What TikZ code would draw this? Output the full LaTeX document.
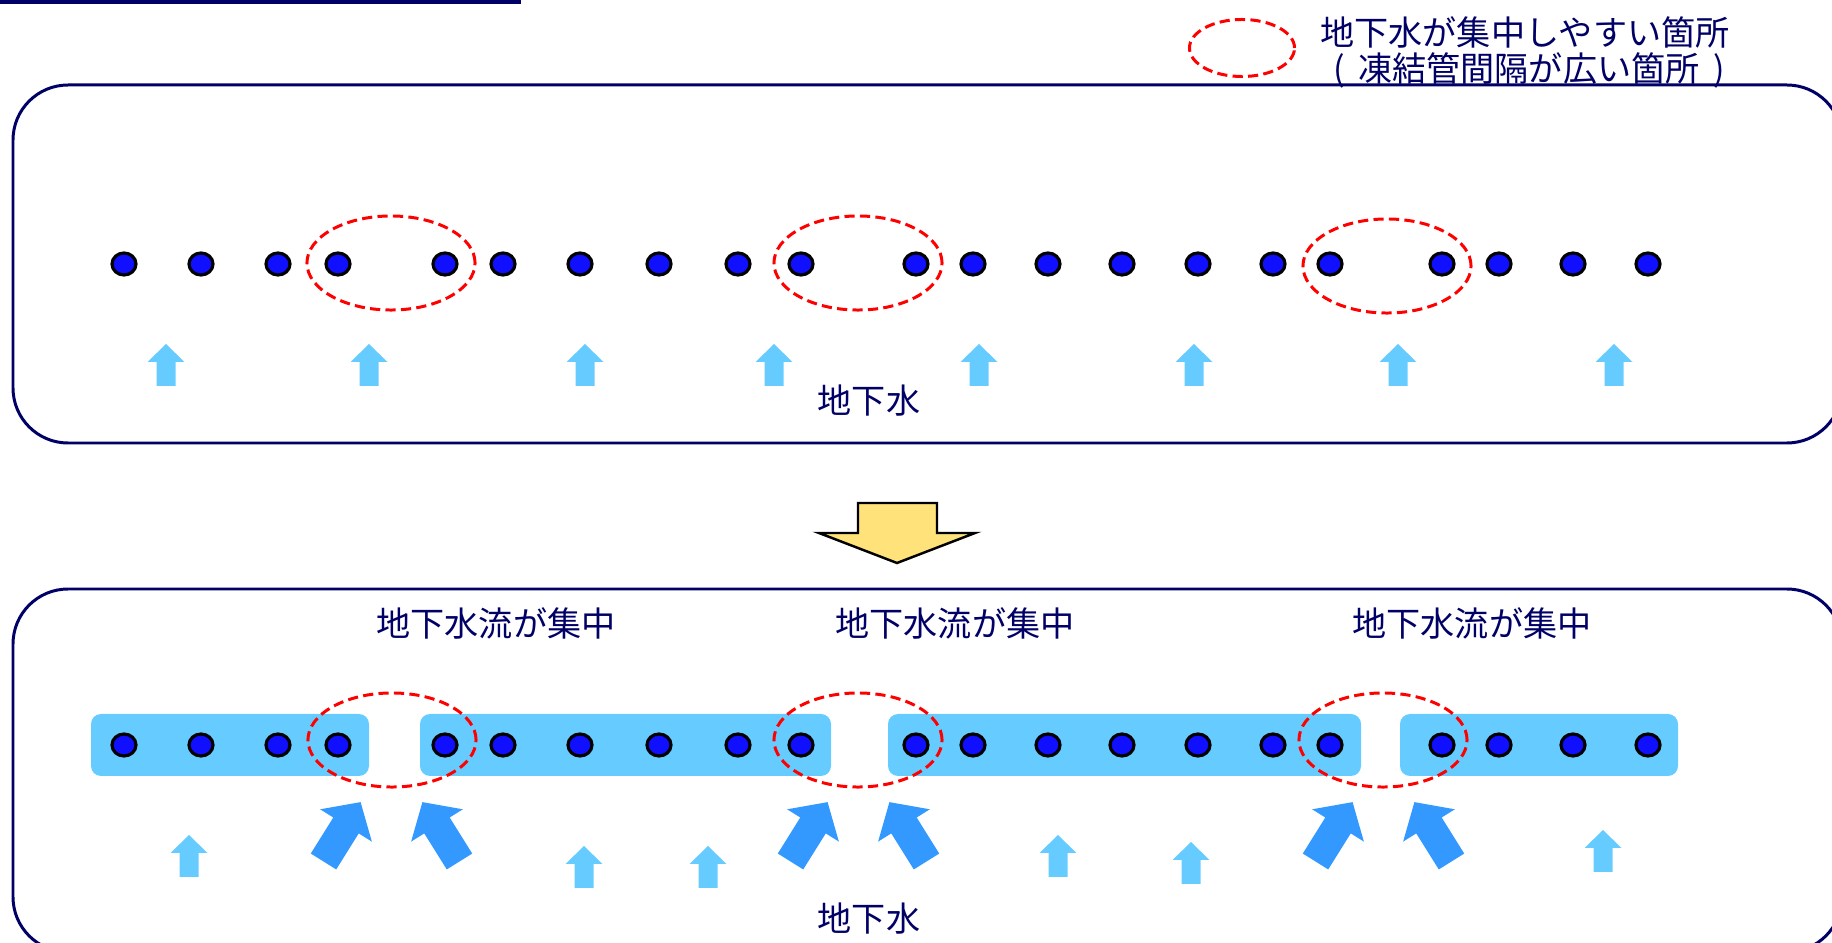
\documentclass[tikz,border=0pt]{standalone}
\usepackage{fontspec}
\setmainfont{Noto Sans CJK JP}
\usetikzlibrary{shapes.geometric}
\definecolor{panelnavy}{RGB}{0,0,102}
\definecolor{pipeblue}{RGB}{16,16,255}
\definecolor{flowlight}{RGB}{102,204,255}
\definecolor{flowdeep}{RGB}{51,153,255}
\definecolor{turnyellow}{RGB}{255,226,122}
\tikzset{
  panel/.style={draw=panelnavy,line width=0.85pt,rounded corners=0.55cm},
  pipe/.style={ellipse,draw=black,fill=pipeblue,line width=0.9pt,minimum width=0.24cm,minimum height=0.22cm,inner sep=0pt},
  spotring/.style={draw=red,line width=0.85pt,dash pattern=on 2.9pt off 1.5pt},
  jtext/.style={text=panelnavy,font=\fontsize{9.7pt}{11pt}\selectfont,inner sep=0pt},
  frozenbar/.style={fill=flowlight,rounded corners=0.1cm},
  uparrow/.pic={\fill[flowlight] (0,0) -- (18.5,18) -- (9.5,18) -- (9.5,42) -- (-9.5,42) -- (-9.5,18) -- (-18.5,18) -- cycle;},
  inflow/.pic={\fill[flowdeep] (0,-15) -- (42.5,-15) -- (42.5,-30.5) -- (70,0) -- (42.5,30.5) -- (42.5,15) -- (0,15) -- cycle;}
}

\begin{document}
\begin{tikzpicture}[x=0.01cm,y=-0.01cm]
\clip (0,0) rectangle (1832,943);

\draw[panelnavy,line width=0.9pt] (0,2) -- (521,2);

\draw[panel] (13,85) rectangle (1842,443);
\draw[panel] (13,589) rectangle (1842,952);

\fill[frozenbar] (91,714) rectangle (369,776);
\fill[frozenbar] (420,714) rectangle (831,776);
\fill[frozenbar] (888,714) rectangle (1361,776);
\fill[frozenbar] (1400,714) rectangle (1678,776);

\foreach \px [count=\i] in {124,201,278,338,445,503,580,659,738,801,916,973,1048,1122,1198,1273,1330,1442,1499,1573,1648} {
  \node[pipe] (t\i) at (\px,264) {};
  \node[pipe] (b\i) at (\px,745) {};
}

\draw[spotring] (391,263) ellipse (0.84cm and 0.47cm);
\draw[spotring] (858,263) ellipse (0.84cm and 0.47cm);
\draw[spotring] (1387,266) ellipse (0.84cm and 0.47cm);
\draw[spotring] (392,740) ellipse (0.84cm and 0.47cm);
\draw[spotring] (858,740) ellipse (0.84cm and 0.47cm);
\draw[spotring] (1383,740) ellipse (0.84cm and 0.47cm);

\draw[spotring] (1242,48) ellipse (0.525cm and 0.285cm);
\node[jtext] (legendA) at (1525,32) {地下水が集中しやすい箇所};
\node[jtext] (legendB) at (1529,70) {(\hspace{0.4em}凍結管間隔が広い箇所\hspace{0.4em})};

\foreach \ax in {166,369,585,774,979,1194,1398,1614}
  \pic at (\ax,344) {uparrow};
\foreach \ax/\ay in {189/835,584/846,708/846,1058/835,1191/842,1603/830}
  \pic at (\ax,\ay) {uparrow};

\foreach \cx in {391,858,1383} {
  \pic[rotate=58] at (\cx-67.5,861.5) {inflow};
  \pic[rotate=122] at (\cx+68.5,861.5) {inflow};
}

\filldraw[fill=turnyellow,draw=black,line width=0.7pt] (858,503) -- (937,503) -- (937,533) -- (975,533) -- (897,563) -- (819,533) -- (858,533) -- cycle;

\node[jtext] (gwtop) at (869,401) {地下水};
\node[jtext] (gwbot) at (869,919) {地下水};
\foreach \cx [count=\k] in {496,955,1472}
  \node[jtext] (focus\k) at (\cx,623) {地下水流が集中};
\end{tikzpicture}
\end{document}
